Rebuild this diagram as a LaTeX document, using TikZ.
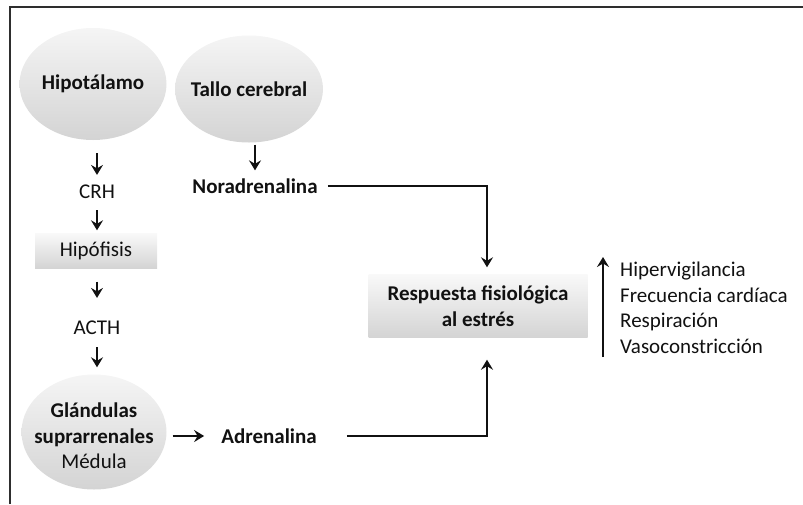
\documentclass[tikz,border=0pt]{standalone}
\usepackage{fontspec}
\setmainfont{Carlito}
\usetikzlibrary{arrows.meta,calc,positioning,shapes.geometric}
\definecolor{Ink}{HTML}{111111}
\definecolor{Frame}{HTML}{2E2E2E}

\begin{document}
\begin{tikzpicture}[x=1pt, y=-1pt,
  every node/.style={font=\fontsize{21}{25.5}\selectfont, text=Ink, inner sep=2pt},
  heavy/.style={font=\fontsize{21}{25.5}\selectfont\bfseries},
  bulb/.style={ellipse, top color=gray!8, bottom color=gray!34, draw=none},
  panel/.style={rectangle, top color=gray!5, bottom color=gray!34, draw=none, align=center},
  flow/.style={-{Stealth[length=10pt,width=12pt,inset=3.5pt]}, line width=2.4pt, draw=Ink}]
  \useasboundingbox (0,0) rectangle (803,504);
  \draw[Frame, line width=1.4pt] (10,504) -- (10,7) -- (803,7);

  \node[bulb, minimum width=147, minimum height=112] (hipo) at (93,84) {};
  \node[heavy] (hipotx) at (hipo) {Hipotálamo};
  \node[bulb, minimum width=148, minimum height=107] (tallo) at (249,89) {};
  \node[heavy] (tallotx) at (tallo) {Tallo cerebral};
  \node (crh) at (97,192) {CRH};
  \node[panel, minimum width=122, minimum height=35] (hipof) at (96,251) {Hipófisis};
  \node (acth) at (97,328) {ACTH};
  \node[bulb, minimum width=145, minimum height=115] (glan) at (94,432) {};
  \node[align=center] (glantx) at (94,436) {\textbf{Glándulas}\\\textbf{suprarrenales}\\Médula};
  \node[heavy] (nora) at (255,186) {Noradrenalina};
  \node[heavy] (adren) at (269,436) {Adrenalina};
  \node[panel, heavy, minimum width=219, minimum height=63] (resp) at (478,306) {Respuesta fisiológica\\al estrés};
  \node[anchor=west, align=left, inner sep=0] (efectos) at (620,308) {Hipervigilancia\\Frecuencia cardíaca\\Respiración\\Vasoconstricción};
  \coordinate (subepie) at (603,357);
  \coordinate (subepunta) at (603,257);

  \draw[flow, shorten <=13pt, shorten >=8pt] (hipo.south -| crh) -- (crh);
  \draw[flow, shorten <=9pt, shorten >=3pt] (crh) -- (crh |- hipof.north);
  \draw[flow, shorten <=13pt, shorten >=21pt] (hipof.south -| acth) -- (acth);
  \draw[flow, shorten <=10pt, shorten >=7pt] (acth) -- (acth |- glan.north);
  \draw[flow, shorten <=2pt, shorten >=6pt] (tallo.south -| nora) -- (nora);
  \draw[flow, shorten <=6pt, shorten >=15pt] (glan.east |- adren) -- (adren);
  \draw[flow, shorten <=8pt, shorten >=7pt] (nora.east) -| ([xshift=9pt]resp.north);
  \draw[flow, shorten <=28pt, shorten >=22pt] (adren.east) -| ([xshift=9pt]resp.south);
  \draw[flow] (subepie) -- (subepunta);
\end{tikzpicture}
\end{document}
